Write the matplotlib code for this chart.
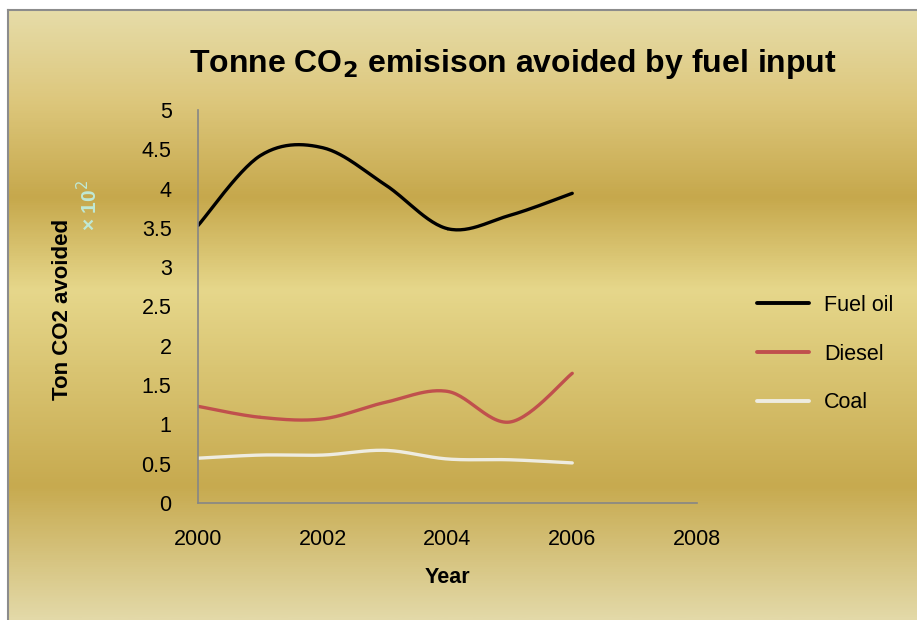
import numpy as np
import matplotlib
matplotlib.use("Agg")
import matplotlib.pyplot as plt
from matplotlib.colors import LinearSegmentedColormap
from matplotlib.lines import Line2D

# ---- data ----
years = [2000, 2001, 2002, 2003, 2004, 2005, 2006]
fuel_oil = [3.53, 4.42, 4.52, 4.05, 3.49, 3.66, 3.94]
diesel = [1.23, 1.09, 1.07, 1.28, 1.42, 1.03, 1.65]
coal = [0.57, 0.61, 0.61, 0.67, 0.56, 0.55, 0.51]
series_names = ["Fuel oil", "Diesel", "Coal"]
x_ticks = [2000, 2002, 2004, 2006, 2008]
y_ticks = [0, 0.5, 1, 1.5, 2, 2.5, 3, 3.5, 4, 4.5, 5]
y_tick_labels = ["0", "0.5", "1", "1.5", "2", "2.5", "3", "3.5", "4", "4.5", "5"]

FONT = ["Liberation Sans Narrow", "DejaVu Sans Condensed", "Liberation Sans", "DejaVu Sans"]
plt.rcParams["font.family"] = FONT

W, H = 917, 620
fig = plt.figure(figsize=(W / 100, H / 100), dpi=100)
fig.patch.set_facecolor("white")


def fx(px):
    return px / W


def fy(py):
    return 1 - py / H


# background gradient panel
bg = fig.add_axes([fx(8), 0, 1 - fx(8), fy(10)], zorder=-5)
stops_px = [10, 100, 197, 290, 487, 620]
stops_col = ["#e6dca8", "#ddc77c", "#c6a84c", "#e6d78b", "#c7aa4f", "#e3d9a8"]
pos = [(p - 10) / (620 - 10) for p in stops_px]
cmap = LinearSegmentedColormap.from_list("gold", list(zip(pos, stops_col)))
grad = np.linspace(0, 1, 600).reshape(-1, 1)
bg.imshow(grad, aspect="auto", cmap=cmap, extent=[0, 1, 0, 1], origin="upper")
bg.set_xlim(0, 1)
bg.set_ylim(0, 1)
for s in ["right", "bottom"]:
    bg.spines[s].set_visible(False)
for s in ["left", "top"]:
    bg.spines[s].set_color("#8c8c8c")
    bg.spines[s].set_linewidth(1.5)
bg.set_xticks([])
bg.set_yticks([])

# main plot
ax = fig.add_axes([fx(198), fy(503), fx(697 - 198), (503 - 110) / H])
ax.patch.set_alpha(0)


def smooth(xs, ys, n=30):
    # Catmull-Rom rendering of the line through the data points (Excel "smoothed line")
    P = np.column_stack([xs, ys]).astype(float)
    P = np.vstack([P[0], P, P[-1]])
    out = []
    for i in range(1, len(P) - 2):
        p0, p1, p2, p3 = P[i - 1], P[i], P[i + 1], P[i + 2]
        t = np.linspace(0, 1, n)[:, None]
        seg = 0.5 * ((2 * p1) + (-p0 + p2) * t + (2 * p0 - 5 * p1 + 4 * p2 - p3) * t ** 2
                     + (-p0 + 3 * p1 - 3 * p2 + p3) * t ** 3)
        out.append(seg)
    out = np.vstack(out)
    return out[:, 0], out[:, 1]


colors = ["#000000", "#c0504d", "#eeece1"]
for vals, col in zip([fuel_oil, diesel, coal], colors):
    sx, sy = smooth(years, vals)
    ax.plot(sx, sy, color=col, lw=2.4, solid_capstyle="round")

ax.set_xlim(2000, 2008)
ax.set_ylim(0, 5)
ax.set_xticks(x_ticks)
ax.set_xticklabels([str(v) for v in x_ticks], fontsize=15.5)
ax.set_yticks(y_ticks)
ax.set_yticklabels(y_tick_labels, fontsize=15.5)
ax.tick_params(length=0)
ax.tick_params(axis="x", pad=19)
ax.tick_params(axis="y", pad=19)
for s in ["top", "right"]:
    ax.spines[s].set_visible(False)
for s in ["left", "bottom"]:
    ax.spines[s].set_color("#868686")
    ax.spines[s].set_linewidth(1.2)

ax.set_xlabel("Year", fontsize=15.5, fontweight="bold", labelpad=12)

fig.text(fx(62), fy(309), "Ton CO2 avoided", rotation=90, ha="center", va="center",
         fontsize=16, fontweight="bold")
fig.text(fx(89), fy(205), "× 10$^2$", rotation=90, ha="center", va="center",
         fontsize=15, fontweight="bold", color="#bfe9d6")

fig.text(fx(513), fy(64), "Tonne CO$_\\mathbf{2}$ emisison avoided by fuel input",
         ha="center", va="center", fontsize=23, fontweight="bold")

handles = [Line2D([0], [0], color=c, lw=2.8, solid_capstyle="round") for c in colors]
leg = fig.legend(handles, series_names, loc="center left",
                 bbox_to_anchor=(fx(738), fy(354)), frameon=False, fontsize=15.5,
                 handlelength=2.4, handletextpad=0.7, labelspacing=1.3)

fig.savefig("out.png", dpi=100)
